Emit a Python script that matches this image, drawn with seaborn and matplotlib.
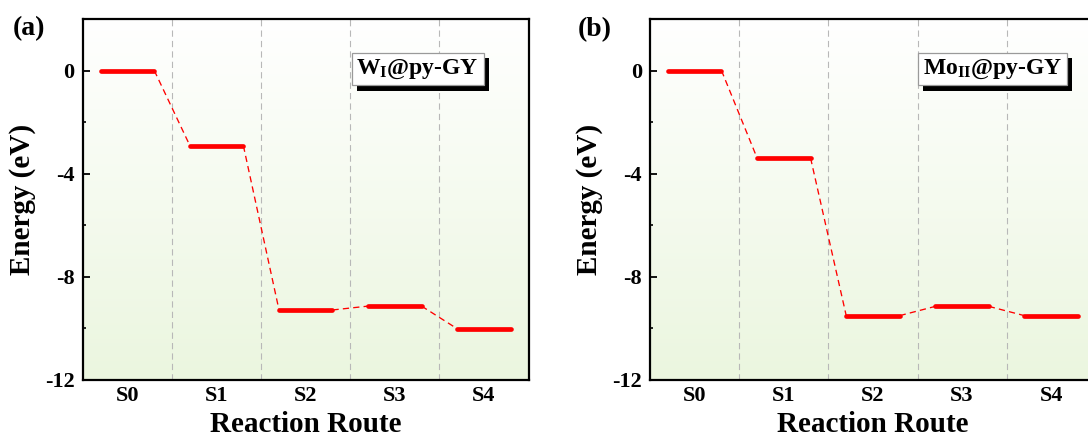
import numpy as np
import pandas as pd
import matplotlib
matplotlib.use("Agg")
import matplotlib.pyplot as plt
import matplotlib.patheffects as pe
from matplotlib.colors import LinearSegmentedColormap
from matplotlib.ticker import MultipleLocator
import seaborn as sns

# ---- data ----
states = ["S0", "S1", "S2", "S3", "S4"]
energy_a = [0.0, -2.92, -9.30, -9.15, -10.03]
energy_b = [0.0, -3.40, -9.52, -9.16, -9.52]
panel_tags = ["(a)", "(b)"]
panel_names = [r"W$_{\mathbf{I}}$@py-GY", r"Mo$_{\mathbf{II}}$@py-GY"]
y_ticks = [0, -4, -8, -12]

sns.set_theme(style="ticks")
plt.rcParams["font.family"] = ["Liberation Serif", "DejaVu Serif"]
plt.rcParams["font.weight"] = "bold"
plt.rcParams["mathtext.fontset"] = "custom"
plt.rcParams["mathtext.rm"] = "Liberation Serif:bold"
plt.rcParams["mathtext.bf"] = "Liberation Serif:bold"
plt.rcParams["mathtext.it"] = "Liberation Serif:bold"
plt.rcParams["lines.scale_dashes"] = False
for key in ["text.color", "axes.labelcolor", "xtick.color", "ytick.color"]:
    plt.rcParams[key] = "black"

W, H = 1088, 441
fig = plt.figure(figsize=(W / 100, H / 100), dpi=100)
ax_w = 445.5 / W
ax_h = 360.5 / H
ax_b = (H - 379.5) / H
axes = [fig.add_axes([83 / W, ax_b, ax_w, ax_h]),
        fig.add_axes([650.2 / W, ax_b, ax_w, ax_h])]

cmap = LinearSegmentedColormap.from_list("bg", ["#ebf6df", "#ffffff"])
half = 0.3

for k, (ax, energies) in enumerate(zip(axes, [energy_a, energy_b])):
    xs = np.arange(len(states))
    # background gradient
    grad = np.linspace(0, 1, 256).reshape(-1, 1)
    ax.imshow(grad, extent=[0, 1, 0, 1], transform=ax.transAxes, aspect="auto",
              cmap=cmap, origin="lower", zorder=0)
    # level segments
    lev = pd.DataFrame({
        "x": np.concatenate([xs - half, xs + half]),
        "E": np.concatenate([energies, energies]),
        "state": states * 2,
    })
    sns.lineplot(data=lev, x="x", y="E", units="state", estimator=None, ax=ax,
                 color="#ff0000", lw=3.4, solid_capstyle="round", zorder=4,
                 legend=False, sort=True)
    # connectors
    con = pd.DataFrame({
        "x": np.concatenate([xs[:-1] + half, xs[1:] - half]),
        "E": np.concatenate([energies[:-1], energies[1:]]),
        "step": list(range(len(states) - 1)) * 2,
    })
    sns.lineplot(data=con, x="x", y="E", units="step", estimator=None, ax=ax,
                 color="#ff0000", lw=0.95, linestyle=(0, (4.5, 3.0)), zorder=3,
                 legend=False)
    # dividers
    for d in xs[:-1] + 0.5:
        ax.axvline(d, color="#b8b8b8", lw=0.8, linestyle=(0, (4.5, 3.0)), zorder=2)

    ax.set_xlim(-0.5, len(states) - 0.5)
    ax.set_ylim(-12, 2)
    ax.set_xticks(xs)
    ax.set_xticklabels(states, fontsize=16, fontweight="bold")
    ax.set_yticks(y_ticks)
    ax.set_yticklabels([str(t) for t in y_ticks], fontsize=16, fontweight="bold")
    ax.yaxis.set_minor_locator(MultipleLocator(2))
    ax.tick_params(axis="y", which="major", direction="in", length=5, width=1.3, pad=6)
    ax.tick_params(axis="y", which="minor", direction="in", length=2.5, width=1.2)
    ax.tick_params(axis="x", length=0, pad=4.5)
    for s in ax.spines.values():
        s.set_linewidth(1.6)
        s.set_color("black")
        s.set_zorder(6)
    ax.set_xlabel("Reaction Route", fontsize=21, fontweight="bold")
    ax.set_ylabel("Energy (eV)", fontsize=21, fontweight="bold")
    ax.xaxis.set_label_coords(0.5, -0.088)
    ax.yaxis.set_label_coords(-0.106, 0.5)

    bx = [0.751, 0.768][k]
    t = ax.text(bx, 0.861, panel_names[k], transform=ax.transAxes, ha="center",
                va="center", fontsize=17, fontweight="bold", zorder=7,
                bbox=dict(boxstyle="square,pad=0.2", fc="white", ec="#9a9a9a", lw=0.9))
    t.get_bbox_patch().set_path_effects([
        pe.SimplePatchShadow(offset=(4, -4), shadow_rgbFace="black", alpha=1.0),
        pe.Normal()])

fig.text(29 / W, 1 - 28.5 / H, panel_tags[0], ha="center", va="center",
         fontsize=20, fontweight="bold")
fig.text(595 / W, 1 - 30 / H, panel_tags[1], ha="center", va="center",
         fontsize=20, fontweight="bold")

fig.savefig("out.png", dpi=100)
